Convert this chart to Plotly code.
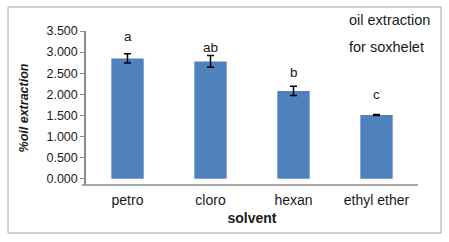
import plotly.graph_objects as go

solvents = ["petro", "cloro", "hexan", "ethyl ether"]
oil_extraction = [2.85, 2.78, 2.08, 1.51]
error = [0.11, 0.14, 0.11, 0.01]
letters = ["a", "ab", "b", "c"]
letter_y = [3.38, 3.10, 2.51, 1.99]
y_ticks = [0, 0.5, 1.0, 1.5, 2.0, 2.5, 3.0, 3.5]

W, H = 449, 242
L, R, T, B = 86, 31, 31, 57
FONT = "Liberation Sans, Arial"

fig = go.Figure()
fig.add_trace(go.Bar(
    x=solvents, y=oil_extraction,
    marker=dict(color="#4F81BD", line=dict(width=0)),
    error_y=dict(type="data", array=error, color="black", thickness=1.5, width=3.5),
    width=0.39,
))

for s, t, ly in zip(solvents, letters, letter_y):
    fig.add_annotation(x=s, y=ly, text=t, showarrow=False,
                       font=dict(family=FONT, size=13.5, color="#1a1a1a"))

pw = W - L - R
ph = H - T - B
def px_x(p):
    return (p - L) / pw
def px_y(p):
    return (H - B - p) / ph

fig.add_shape(type="rect", xref="paper", yref="paper",
              x0=px_x(8), x1=px_x(441), y0=px_y(233), y1=px_y(7),
              line=dict(color="#A6A6A6", width=1), layer="below")
fig.add_shape(type="line", xref="paper", yref="paper",
              x0=px_x(82), x1=1, y0=0, y1=0,
              line=dict(color="#8C8C8C", width=1.5))

fig.add_annotation(xref="paper", yref="paper", x=px_x(347), y=px_y(20),
                   xanchor="left", yanchor="middle", text="oil extraction", showarrow=False,
                   font=dict(family=FONT, size=14.5, color="#1a1a1a"))
fig.add_annotation(xref="paper", yref="paper", x=px_x(347), y=px_y(47),
                   xanchor="left", yanchor="middle", text="for soxhelet", showarrow=False,
                   font=dict(family=FONT, size=14.5, color="#1a1a1a"))

fig.update_layout(
    width=W, height=H,
    margin=dict(l=L, r=R, t=T, b=B, autoexpand=False),
    paper_bgcolor="white", plot_bgcolor="white",
    showlegend=False,
    font=dict(family=FONT, size=13, color="#1a1a1a"),
    xaxis=dict(
        automargin=False,
        showline=False, ticks="", showgrid=False,
        tickfont=dict(size=14),
        ticklabelstandoff=5,
        title=dict(text="<b>solvent</b>", font=dict(size=14), standoff=6),
    ),
    yaxis=dict(
        automargin=False,
        range=[-0.15, 3.5],
        tickvals=y_ticks,
        ticktext=[f"{v:.3f}" for v in y_ticks],
        showline=True, linecolor="#8C8C8C", linewidth=1.5,
        ticks="outside", ticklen=4, tickcolor="#8C8C8C",
        showgrid=False, zeroline=False,
        tickfont=dict(size=12.5),
        title=dict(text="<b><i>%oil extraction</i></b>", font=dict(size=12.5), standoff=15),
    ),
)

fig.write_html("out.html", post_script="document.body.style.margin='0';",
               config={"displayModeBar": False})
